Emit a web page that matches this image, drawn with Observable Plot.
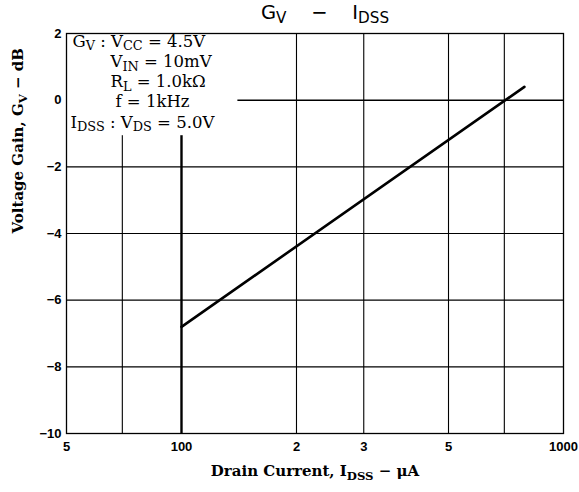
<!DOCTYPE html>
<html>
<head>
<meta charset="utf-8">
<script src="https://cdn.jsdelivr.net/npm/d3@7"></script>
<script src="https://cdn.jsdelivr.net/npm/@observablehq/plot@0.6"></script>
<style>
  html, body { margin: 0; padding: 0; background: #fff; }
</style>
</head>
<body>
<div id="chart"></div>
<script>
// ---- data ----
const xTicks = [50, 70, 100, 200, 300, 500, 700, 1000];
const xTickLabels = ["5", "7", "100", "2", "3", "5", "7", "1000"];
const yTicks = [-10, -8, -6, -4, -2, 0, 2];
const gridX = [70, 100, 200, 300, 500, 700];
const gridY = [-8, -6, -4, -2, 0];
const drainCurrent = [100, 790];   // µA
const voltageGain = [-6.8, 0.4];   // dB
const titleText = "G_{V}    −    I_{DSS}";
const xLabel = "Drain Current, I_{DSS} − μA";
const yLabel = "Voltage Gain, G_{V} − dB";
const noteLines = [
  "G_{V} : V_{CC} = 4.5V",
  "V_{IN} = 10mV",
  "R_{L} = 1.0kΩ",
  "f = 1kHz",
  "I_{DSS} : V_{DS} = 5.0V"
];

const points = drainCurrent.map((c, i) => ({ c, g: voltageGain[i] }));
const serif = "DejaVu Serif, serif";
const sans = "DejaVu Sans, sans-serif";
const noteIndent = [6, 44, 44, 49, 4];

const noteTexts = noteLines.map((line, i) =>
  Plot.text([line], {
    frameAnchor: "top-left", text: d => d, textAnchor: "start", lineAnchor: "middle",
    dx: noteIndent[i], dy: 8 + i * 20.2,
    fontFamily: serif, fontSize: 16.5, fill: "black"
  })
);

const chart = Plot.plot({
  width: 579, height: 492,
  marginLeft: 66, marginRight: 16, marginTop: 33, marginBottom: 59,
  style: { background: "white", color: "black" },
  x: { type: "log", domain: [50, 1000] },
  y: { domain: [-10, 2] },
  marks: [
    Plot.ruleX(gridX, { stroke: "black", strokeWidth: d => d === 100 ? 2.4 : 1.1 }),
    Plot.ruleY(gridY, { stroke: "black", strokeWidth: d => d === 0 ? 1.5 : 1.1 }),
    Plot.line(points, { x: "c", y: "g", stroke: "black", strokeWidth: 2.6 }),
    ...noteTexts,
    Plot.frame({ stroke: "black", strokeWidth: 1.3 }),
    Plot.axisX({
      ticks: xTicks, tickSize: 0, tickPadding: 8, label: null,
      tickFormat: d => xTickLabels[xTicks.indexOf(d)],
      fontFamily: "Liberation Sans, Arial, sans-serif", fontSize: 13, fontWeight: "bold"
    }),
    Plot.axisY({
      ticks: yTicks, tickSize: 0, tickPadding: 5, label: null,
      tickFormat: d => d < 0 ? "−" + Math.abs(d) : String(d),
      fontFamily: "Liberation Sans, Arial, sans-serif", fontSize: 13, fontWeight: "bold"
    }),
    Plot.text([titleText], {
      frameAnchor: "top", text: d => d, dx: 10, dy: -21, lineAnchor: "middle",
      fontFamily: sans, fontSize: 19.5
    }),
    Plot.text([xLabel], {
      frameAnchor: "bottom", text: d => d, dy: 38, lineAnchor: "middle",
      fontFamily: serif, fontSize: 15, fontWeight: "bold"
    }),
    Plot.text([yLabel], {
      frameAnchor: "left", text: d => d, dx: -48, rotate: -90, lineAnchor: "middle",
      fontFamily: serif, fontSize: 15, fontWeight: "bold"
    })
  ]
});

document.getElementById("chart").appendChild(chart);

const NS = "http://www.w3.org/2000/svg";

// find the annotation text elements before rewriting them
const noteSet = new Set(noteLines);
const noteEls = Array.from(chart.querySelectorAll("text")).filter(t => noteSet.has(t.textContent));

// subscripts: turn "_{...}" into real subscript tspans
chart.querySelectorAll("text, tspan").forEach(el => {
  if (el.children.length !== 0) return;
  const s = el.textContent;
  if (!/_\{/.test(s)) return;
  const fs = parseFloat(getComputedStyle(el).fontSize) || 14;
  const shift = fs * 0.22, subFs = fs * 0.78;
  const parts = s.split(/_\{([^}]*)\}/);
  el.textContent = "";
  let inSub = false;
  parts.forEach((p, i) => {
    if (!p) return;
    const t = document.createElementNS(NS, "tspan");
    t.textContent = p;
    if (i % 2 === 1) {
      t.setAttribute("font-size", subFs);
      if (!inSub) t.setAttribute("dy", shift);
      inSub = true;
    } else {
      if (inSub) t.setAttribute("dy", -shift);
      inSub = false;
    }
    el.appendChild(t);
  });
});

// white panel behind the annotation, sized from the rendered text
if (noteEls.length) {
  const svgRect = chart.getBoundingClientRect();
  let x1 = Infinity, y1 = Infinity, x2 = -Infinity, y2 = -Infinity;
  noteEls.forEach(t => {
    const b = t.getBoundingClientRect();
    x1 = Math.min(x1, b.left - svgRect.left); y1 = Math.min(y1, b.top - svgRect.top);
    x2 = Math.max(x2, b.right - svgRect.left); y2 = Math.max(y2, b.bottom - svgRect.top);
  });
  const rect = document.createElementNS(NS, "rect");
  rect.setAttribute("x", x1 - 4);
  rect.setAttribute("y", y1 - 4);
  rect.setAttribute("width", x2 - x1 + 26);
  rect.setAttribute("height", y2 - y1 + 5);
  rect.setAttribute("fill", "white");
  const firstGroup = noteEls[0].closest("g");
  firstGroup.parentNode.insertBefore(rect, firstGroup);
}
</script>
</body>
</html>
